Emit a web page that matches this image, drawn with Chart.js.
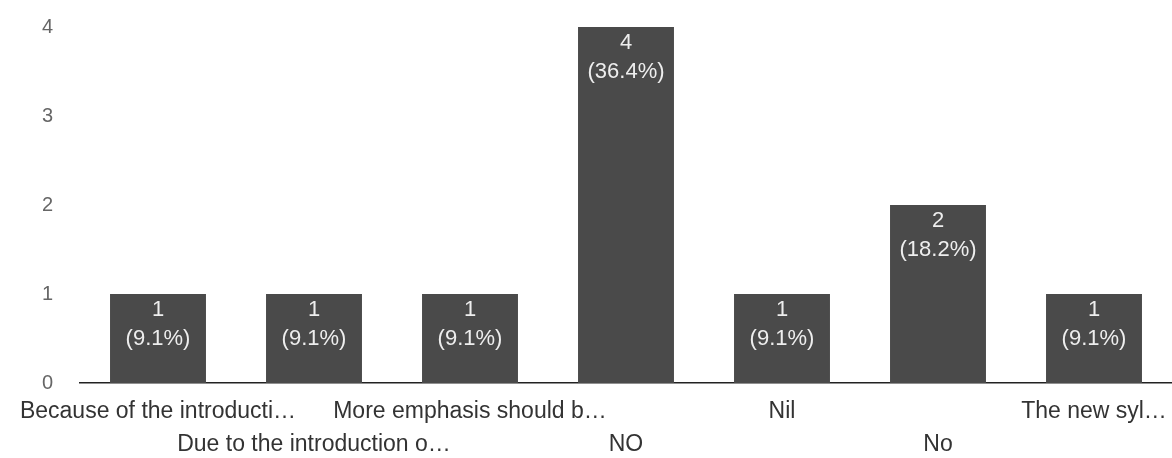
<!DOCTYPE html>
<html>
<head>
<meta charset="utf-8">
<script src="https://cdn.jsdelivr.net/npm/chart.js@4"></script>
<style>
  html, body { margin: 0; padding: 0; background: #fff; }
  #wrap { width: 1172px; height: 458px; }
</style>
</head>
<body>
<div id="wrap"><canvas id="myChart" width="1172" height="458"></canvas></div>
<script>
const categories = [
  'Because of the introducti…',
  'Due to the introduction o…',
  'More emphasis should b…',
  'NO',
  'Nil',
  'No',
  'The new syl…'
];
const counts = [1, 1, 1, 4, 1, 2, 1];
const percents = ['9.1%', '9.1%', '9.1%', '36.4%', '9.1%', '18.2%', '9.1%'];
const yTicks = [0, 1, 2, 3, 4];

const FONT = '"Liberation Sans", Arial, sans-serif';

// white count + percent text inside each bar
const barLabels = {
  id: 'barLabels',
  afterDatasetsDraw(chart) {
    const ctx = chart.ctx;
    const meta = chart.getDatasetMeta(0);
    ctx.save();
    ctx.fillStyle = '#eeeeee';
    ctx.font = '22px ' + FONT;
    ctx.textAlign = 'center';
    ctx.textBaseline = 'middle';
    meta.data.forEach((bar, i) => {
      ctx.fillText(String(counts[i]), bar.x, bar.y + 16);
      ctx.fillText('(' + percents[i] + ')', bar.x, bar.y + 45);
    });
    ctx.restore();
  }
};

new Chart(document.getElementById('myChart'), {
  type: 'bar',
  data: {
    labels: categories,
    datasets: [{
      data: counts,
      backgroundColor: '#4a4a4a',
      categoryPercentage: 1,
      barPercentage: 0.615
    }]
  },
  options: {
    responsive: false,
    animation: false,
    layout: { padding: { top: 27, right: 0, bottom: 0, left: 0 } },
    plugins: {
      legend: { display: false },
      tooltip: { enabled: false }
    },
    scales: {
      x: {
        grid: { display: false },
        border: { display: true, color: '#222', width: 1.5 },
        afterFit: s => { s.height = 75; s.paddingTop = 0; },
        ticks: {
          autoSkip: false,
          maxRotation: 0,
          minRotation: 0,
          padding: 5,
          color: '#333',
          font: { family: FONT, size: 23, lineHeight: 1.4 },
          callback: function (v, i) {
            const t = categories[i];
            return i % 2 === 0 ? [t, ''] : ['', t];
          }
        }
      },
      y: {
        min: 0,
        max: 4,
        grid: { display: false },
        border: { display: false },
        afterFit: s => { s.width = 80; s.paddingTop = 0; s.paddingBottom = 0; },
        afterBuildTicks: s => { s.ticks = yTicks.map(v => ({ value: v })); },
        ticks: {
          padding: 19,
          color: '#666',
          font: { family: FONT, size: 20 }
        }
      }
    }
  },
  plugins: [barLabels]
});
</script>
</body>
</html>
